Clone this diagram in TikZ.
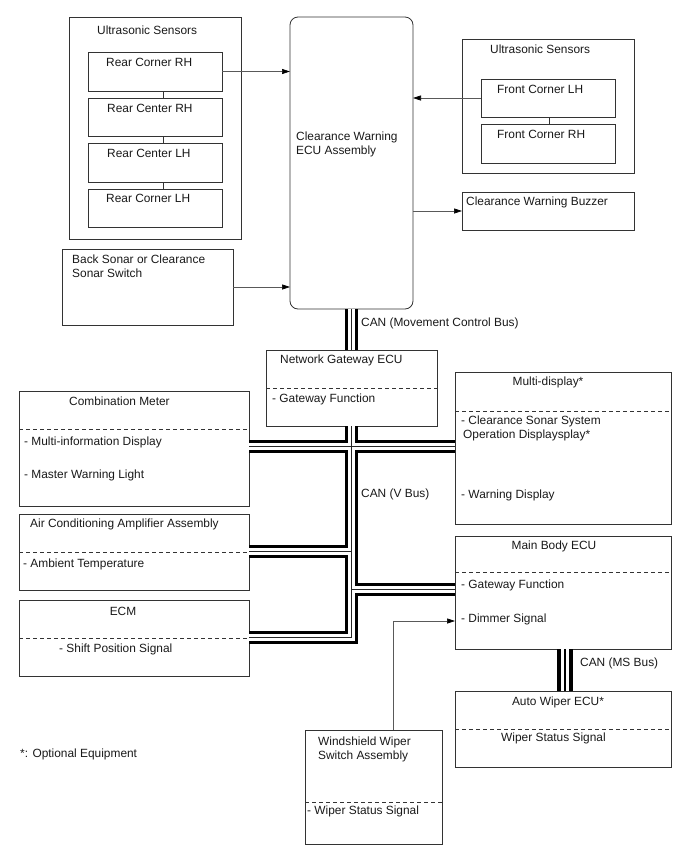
\documentclass[tikz,border=0pt]{standalone}
\usepackage{fontspec}
\setmainfont{Liberation Sans}
\usetikzlibrary{arrows.meta}
\newcommand\fsz{\fontsize{11.9pt}{14pt}\selectfont}
\newcommand\mkbox[5]{\node[box, minimum width={#4-#2}, minimum height={#5-#3}] (#1) at (#2,#3) {};}
\begin{document}
\begin{tikzpicture}[x=1pt,y=-1pt,
  box/.style={draw=black!80, line width=0.8pt, inner sep=0pt, outer sep=0pt, anchor=north west},
  dsh/.style={draw=black!80, line width=0.7pt, dash pattern=on 4pt off 3pt},
  lbl/.style={anchor=west, inner sep=0pt, text height=8.4pt, text depth=0pt, font=\fsz, text=black!90},
  mlbl/.style={anchor=west, inner sep=0pt, align=left, font=\fsz, text=black!90},
  ctr/.style={anchor=center, inner sep=0pt, text height=8.4pt, text depth=0pt, font=\fsz, text=black!90},
  arr/.style={draw=black!65, line width=0.6pt, -{Triangle[length=8pt,width=5pt,color=black]}},
  lnk/.style={draw=black!80, line width=0.8pt},
  vbus/.style={draw=black, line width=13pt, line join=miter,
    postaction={draw=white, line width=7pt},
    postaction={draw=black!85, line width=0.8pt}},
  msbus/.style={draw=black, line width=16pt, line join=miter,
    postaction={draw=white, line width=8pt},
    postaction={draw=black, line width=2pt}}
]
\useasboundingbox (0,0) rectangle (688,852);

% ---------- boxes ----------
\mkbox{usL}{69}{17}{241}{239}
\mkbox{rcrh}{88}{52}{222}{91}
\mkbox{rcerh}{88}{98}{222}{136}
\mkbox{rcelh}{88}{143}{222}{182}
\mkbox{rcolh}{88}{189}{222}{227}
\mkbox{bs}{62}{249}{233}{325}
\node[box, rounded corners=8pt, minimum width=123, minimum height=292] (ecu) at (290,17) {};
\mkbox{usR}{462}{39}{634}{173}
\mkbox{fclh}{481}{79}{615}{117}
\mkbox{fcrh}{481}{124}{615}{163}
\mkbox{buz}{462}{192}{634}{230}
\mkbox{gw}{266}{350}{437}{426}
\mkbox{cm}{19}{391}{249}{506}
\mkbox{ac}{19}{514}{249}{590}
\mkbox{ecm}{19}{600}{249}{676}
\mkbox{md}{455}{372}{671}{524}
\mkbox{mb}{455}{536}{671}{649}
\mkbox{aw}{455}{691}{671}{767}
\mkbox{ws}{305}{730}{442}{844}

% ---------- dashed separators ----------
\draw[dsh] (gw.west |- 0,388) -- (gw.east |- 0,388);
\draw[dsh] (cm.west |- 0,429) -- (cm.east |- 0,429);
\draw[dsh] (ac.west |- 0,552) -- (ac.east |- 0,552);
\draw[dsh] (ecm.west |- 0,638) -- (ecm.east |- 0,638);
\draw[dsh] (md.west |- 0,411) -- (md.east |- 0,411);
\draw[dsh] (mb.west |- 0,572) -- (mb.east |- 0,572);
\draw[dsh] (aw.west |- 0,729) -- (aw.east |- 0,729);
\draw[dsh] (ws.west |- 0,802) -- (ws.east |- 0,802);

% ---------- CAN buses ----------
\coordinate (j1) at (351.5,446);
\coordinate (j2) at (351.5,551);
\coordinate (j3) at (351.5,589);
\coordinate (j4) at (351.5,637);
\path[vbus] (ecu.south) -- (gw.north)
  (cm.east |- j1) -- (md.west |- j1)
  (gw.south) -- (j4) -- (ecm.east |- j4)
  (j2) -- (ac.east |- j2)
  (j3) -- (mb.west |- j3);
\path[msbus] ([xshift=2pt]mb.south) -- ([xshift=2pt]aw.north);

% ---------- sensor links ----------
\draw[lnk] ([xshift=8pt]rcrh.south) -- ([xshift=8pt]rcerh.north);
\draw[lnk] ([xshift=8pt]rcerh.south) -- ([xshift=8pt]rcelh.north);
\draw[lnk] ([xshift=8pt]rcelh.south) -- ([xshift=8pt]rcolh.north);
\draw[lnk] ([xshift=1pt]fclh.south) -- ([xshift=1pt]fcrh.north);

% ---------- arrows ----------
\draw[arr] (rcrh.east) -- (rcrh.east -| ecu.west);
\draw[arr] (bs.east) -- (bs.east -| ecu.west);
\draw[arr] (fclh.west) -- (fclh.west -| ecu.east);
\draw[arr] (ecu.east |- buz.west) -- (buz.west);
\draw[arr] ([xshift=19.5pt]ws.north) |- ([yshift=-28.5pt]mb.west);

% ---------- texts ----------
\node[lbl] (tusL) at (97,30) {Ultrasonic Sensors};
\node[lbl] (t1) at (106,62) {Rear Corner RH};
\node[lbl] (t2) at (107,108) {Rear Center RH};
\node[lbl] (t3) at (107,153) {Rear Center LH};
\node[lbl] (t4) at (106,198) {Rear Corner LH};
\node[mlbl] (tbs) at (72,266) {Back Sonar or Clearance\\Sonar Switch};
\node[mlbl] (tecu) at (296,144) {Clearance Warning\\ECU Assembly};
\node[lbl] (tusR) at (490,49) {Ultrasonic Sensors};
\node[lbl] (t5) at (497,89) {Front Corner LH};
\node[lbl] (t6) at (497,134) {Front Corner RH};
\node[lbl] (tbuz) at (466,201) {Clearance Warning Buzzer};
\node[lbl] (tcanm) at (361,322) {CAN (Movement Control Bus)};
\node[lbl] (tgw) at (280,359) {Network Gateway ECU};
\node[lbl] (tgw2) at (272,398) {- Gateway Function};
\node[lbl] (tcm) at (69,401) {Combination Meter};
\node[lbl] (tcm2) at (24,441) {- Multi-information Display};
\node[lbl] (tcm3) at (24,474) {- Master Warning Light};
\node[lbl] (tac) at (30,523) {Air Conditioning Amplifier Assembly};
\node[lbl] (tac2) at (23,563) {- Ambient Temperature};
\node[ctr] (tecm) at (123,611) {ECM};
\node[lbl] (tecm2) at (59,648) {- Shift Position Signal};
\node[lbl] (topt) at (20,753) {*: Optional Equipment};
\node[ctr] (tmd) at (548,381) {Multi-display*};
\node[lbl] (tmd2) at (461,420) {- Clearance Sonar System};
\node[lbl] (tmd3) at (463,434) {Operation Displaysplay*};
\node[lbl] (tmd4) at (461,494) {- Warning Display};
\node[lbl] (tcanv) at (361,493) {CAN (V Bus)};
\node[ctr] (tmb) at (554,545) {Main Body ECU};
\node[lbl] (tmb2) at (461,584) {- Gateway Function};
\node[lbl] (tmb3) at (461,618) {- Dimmer Signal};
\node[lbl] (tcanms) at (580,662) {CAN (MS Bus)};
\node[ctr] (taw) at (558,701) {Auto Wiper ECU*};
\node[lbl] (taw2) at (501,737) {Wiper Status Signal};
\node[mlbl] (tws) at (318,749) {Windshield Wiper\\Switch Assembly};
\node[lbl] (tws2) at (307,810) {- Wiper Status Signal};
\end{tikzpicture}
\end{document}
